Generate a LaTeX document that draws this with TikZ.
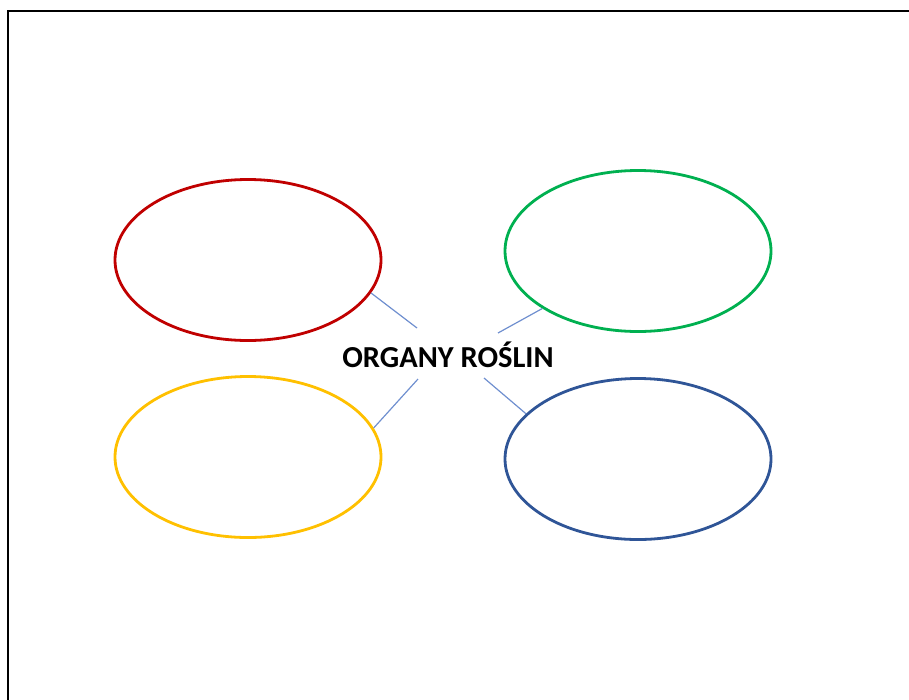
\documentclass[tikz,border=0pt]{standalone}
\usepackage{fontspec}
\setmainfont{Carlito}
\usetikzlibrary{shapes.geometric}

\definecolor{orgred}{HTML}{C00000}
\definecolor{orggreen}{HTML}{00B050}
\definecolor{orgyellow}{HTML}{FFC000}
\definecolor{orgblue}{HTML}{2F5597}
\definecolor{linkblue}{HTML}{6F8FCF}

\begin{document}
\begin{tikzpicture}[
  x=1pt, y=-1pt,
  organ/.style={draw, ellipse, line width=2.8pt, minimum width=266pt, minimum height=161pt, inner sep=0pt},
  link/.style={draw=linkblue, line width=1.2pt},
  title/.style={font=\fontsize{30.5}{36}\selectfont\bfseries}
]
\useasboundingbox (0,0) rectangle (909,699);
\draw[line width=2.6pt] (8,720) -- (8,11) -- (930,11);

\node[title] (center) at (448,355) {ORGANY ROŚLIN};

\node[organ, draw=orgred] (red) at (248,260) {};
\node[organ, draw=orggreen] (green) at (638,251) {};
\node[organ, draw=orgyellow] (yellow) at (248,457) {};
\node[organ, draw=orgblue] (blue) at (638,459) {};

\coordinate (redin) at (417,328);
\coordinate (greenin) at (498,333);
\coordinate (yellowin) at (418,379);
\coordinate (bluein) at (484,378);

\draw[link] (red.-15.8) -- (redin);
\draw[link] (green.211.8) -- (greenin);
\draw[link] (yellow.13.6) -- (yellowin);
\draw[link] (blue.158.7) -- (bluein);
\end{tikzpicture}
\end{document}
